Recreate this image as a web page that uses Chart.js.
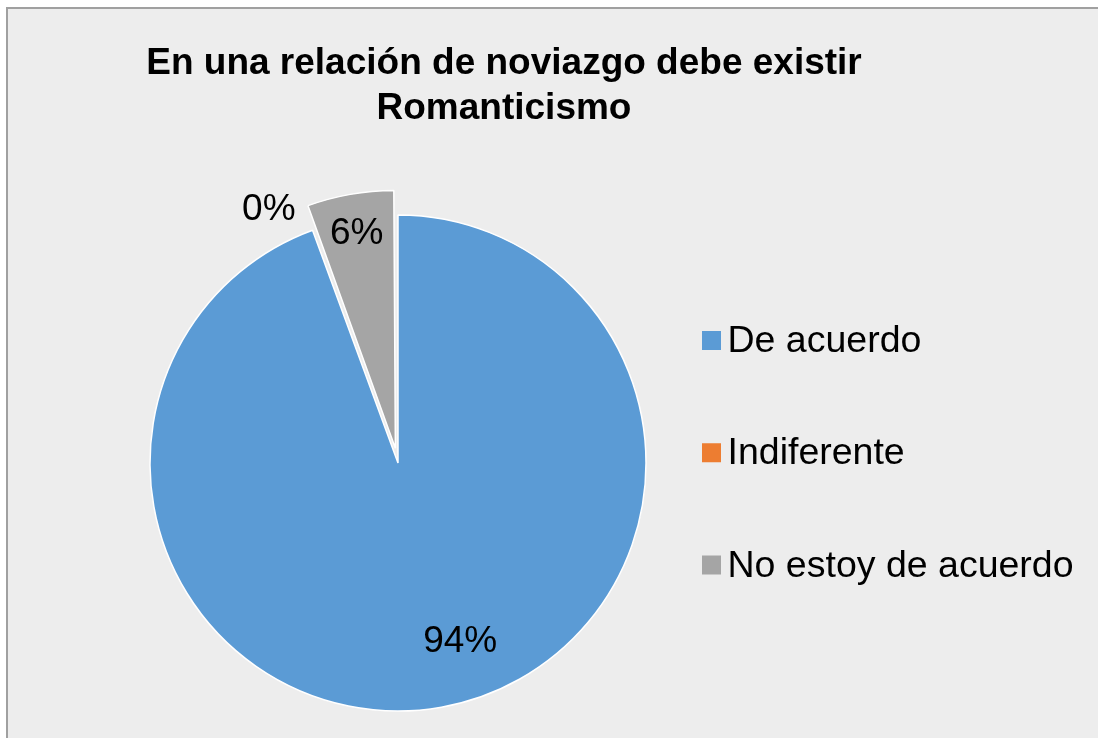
<!DOCTYPE html>
<html><head><meta charset="utf-8">
<script src="https://cdn.jsdelivr.net/npm/chart.js@4.4.0/dist/chart.umd.min.js"></script>
<style>
html,body{margin:0;padding:0;background:#EDEDED;overflow:hidden}
#c{display:block}
</style></head><body>
<canvas id="c" width="1098" height="738"></canvas>
<script>
const titleLines = ['En una relación de noviazgo debe existir', 'Romanticismo'];
const categories = ['De acuerdo', 'Indiferente', 'No estoy de acuerdo'];
const percentages = [94.4, 0, 5.6];
const colors = ['#5B9BD5', '#ED7D31', '#A5A5A5'];
const explode = [0, 0, 60];

const FONT = '"Liberation Sans", Arial, sans-serif';
const FS = 37;
const LFS = 37.5;

const backdrop = {
  id: 'backdrop',
  beforeDraw(chart) {
    const ctx = chart.ctx, w = chart.width, h = chart.height;
    ctx.save();
    ctx.fillStyle = '#FFFFFF';
    ctx.fillRect(0, 0, w, h);
    ctx.fillStyle = '#EDEDED';
    ctx.fillRect(6, 7, w - 6, h - 7);
    ctx.fillStyle = '#A0A0A0';
    ctx.fillRect(6, 7, 2, h - 7);
    ctx.fillRect(6, 7, w - 6, 2);
    ctx.restore();
  }
};

const overlay = {
  id: 'overlay',
  afterDatasetsDraw(chart, args, opts) {
    const ctx = chart.ctx;
    ctx.save();
    ctx.fillStyle = '#000';
    ctx.textBaseline = 'alphabetic';
    // title
    ctx.textAlign = 'center';
    ctx.font = 'bold ' + FS + 'px ' + FONT;
    titleLines.forEach((t, i) => ctx.fillText(t, opts.titleX, opts.titleY + i * opts.titleLineHeight));
    // data labels
    const meta = chart.getDatasetMeta(0);
    const data = chart.data.datasets[0].data;
    const total = data.reduce((a, b) => a + b, 0);
    ctx.font = FS + 'px ' + FONT;
    meta.data.forEach((arc, i) => {
      const p = arc.getProps(['x', 'y', 'startAngle', 'endAngle', 'outerRadius', 'circumference']);
      const mid = (p.startAngle + p.endAngle) / 2;
      const off = (arc.options.offset || 0) / 4;
      const fix = 1 - Math.sin(Math.min(Math.PI, p.circumference || 0));
      const shift = off + off * fix;
      const cx = p.x + Math.cos(mid) * shift, cy = p.y + Math.sin(mid) * shift;
      const pl = opts.placement[i];
      const a = mid + pl.dAngle * Math.PI / 180;
      const r = p.outerRadius * pl.frac;
      const x = cx + Math.cos(a) * r, y = cy + Math.sin(a) * r;
      ctx.fillText(Math.round(data[i] / total * 100) + '%', x, y + FS * 0.358);
    });
    // legend
    ctx.textAlign = 'left';
    ctx.font = LFS + 'px ' + FONT;
    chart.data.labels.forEach((lab, i) => {
      const base = opts.legendBaseline + i * opts.legendStep;
      ctx.fillStyle = chart.data.datasets[0].backgroundColor[i];
      ctx.fillRect(opts.legendX, base - 21, opts.box, opts.box);
      ctx.fillStyle = '#000';
      ctx.fillText(lab, opts.legendTextX, base);
    });
    ctx.restore();
  }
};

new Chart(document.getElementById('c'), {
  type: 'pie',
  data: {
    labels: categories,
    datasets: [{
      data: percentages,
      backgroundColor: colors,
      borderColor: '#FFFFFF',
      borderWidth: 1.5,
      offset: explode
    }]
  },
  options: {
    responsive: false,
    animation: false,
    devicePixelRatio: 1,
    radius: 248,
    layout: { padding: { left: 0, right: 302, top: 200, bottom: 12 } },
    plugins: {
      legend: { display: false },
      title: { display: false },
      tooltip: { enabled: false },
      overlay: {
        titleX: 504, titleY: 74, titleLineHeight: 45,
        placement: [
          { dAngle: -9.4, frac: 0.752 },
          { dAngle: -6.6, frac: 1.157 },
          { dAngle: 0, frac: 0.853 }
        ],
        legendX: 702, legendTextX: 727.5, legendBaseline: 352, legendStep: 112.25, box: 19
      }
    }
  },
  plugins: [backdrop, overlay]
});
</script>
</body></html>
